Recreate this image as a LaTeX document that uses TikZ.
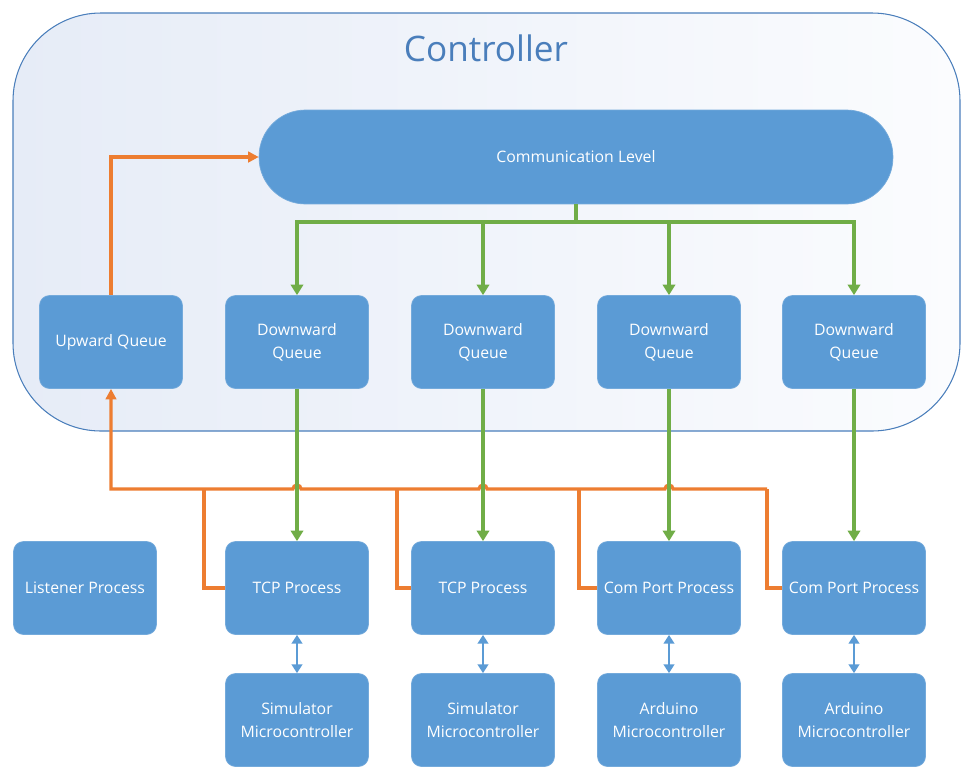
\documentclass[tikz,border=0pt]{standalone}
\usepackage{fontspec}
\setmainfont{Open Sans}
\usetikzlibrary{arrows.meta}
\definecolor{boxblue}{HTML}{5B9BD5}
\definecolor{busgreen}{HTML}{70AD47}
\definecolor{busorange}{HTML}{ED7D31}
\definecolor{frameblue}{HTML}{4A7EBB}
\definecolor{paleL}{HTML}{E6ECF7}
\definecolor{paleR}{HTML}{FBFCFE}

\tikzset{
  box/.style={draw=boxblue!85!white, fill=boxblue, rounded corners=0.2cm,
    minimum width=2.86cm, minimum height=1.86cm, inner sep=1pt,
    text=white, align=center, font=\fontsize{9}{13}\selectfont},
  downlink/.style={draw=busgreen, line width=1.8pt, -{Triangle[length=6pt,width=7pt]}},
  uplink/.style={draw=busorange, line width=1.8pt},
  uparrow/.style={uplink, -{Triangle[length=6pt,width=6pt]}},
  duplex/.style={draw=boxblue, line width=1.3pt,
    {Triangle[length=5pt,width=6pt]}-{Triangle[length=5pt,width=6pt]}},
  hop/.style={start angle=0, end angle=180, radius=2.3pt}
}

\begin{document}
\begin{tikzpicture}[x=0.02cm, y=-0.02cm]
  \useasboundingbox (0,0) rectangle (970,775);
  \draw[draw=frameblue, line width=0.6pt, rounded corners=1.76cm,
    left color=paleL, right color=paleR] (13,13) rectangle (960,431);
  \node[text=frameblue, font=\fontsize{20}{24}\selectfont] (title) at (486,48) {Controller};

  \node[box, minimum width=12.68cm, minimum height=1.88cm, rounded corners=0.93cm]
    (comm) at (576,157) {Communication Level};

  % queues
  \node[box] (upq) at (111,342) {Upward Queue};
  \node[box] (dq1) at (297,342) {Downward\\Queue};
  \node[box] (dq2) at (483,342) {Downward\\Queue};
  \node[box] (dq3) at (669,342) {Downward\\Queue};
  \node[box] (dq4) at (854,342) {Downward\\Queue};

  % processes
  \node[box] (lp)   at (85,588)  {Listener Process};
  \node[box] (tcp1) at (297,588) {TCP Process};
  \node[box] (tcp2) at (483,588) {TCP Process};
  \node[box] (cp1)  at (669,588) {Com Port Process};
  \node[box] (cp2)  at (854,588) {Com Port Process};

  % devices
  \node[box] (sim1) at (297,720) {Simulator\\Microcontroller};
  \node[box] (sim2) at (483,720) {Simulator\\Microcontroller};
  \node[box] (ard1) at (669,720) {Arduino\\Microcontroller};
  \node[box] (ard2) at (854,720) {Arduino\\Microcontroller};

  % orange bus
  \coordinate (corner) at (111,489);
  \coordinate (t1) at (204,489);
  \coordinate (t2) at (397,489);
  \coordinate (t3) at (579,489);
  \coordinate (t4) at (767,489);
  \coordinate (h1) at (dq1.south |- corner);
  \coordinate (h2) at (dq2.south |- corner);
  \coordinate (h3) at (dq3.south |- corner);

  \draw[uplink] (tcp1.west) -| (t1);
  \draw[uplink] (tcp2.west) -| (t2);
  \draw[uplink] (cp1.west) -| (t3);
  \draw[uplink] (cp2.west) -| (t4);
  \draw[uparrow] (t4) -- ([xshift=2.3pt]h3) arc[hop]
    -- ([xshift=2.3pt]h2) arc[hop]
    -- ([xshift=2.3pt]h1) arc[hop]
    -- (corner) -- (upq.south);
  \draw[uparrow] (upq.north) |- (comm.west);

  % green fan-out
  \coordinate (split) at (576,222);
  \foreach \q in {dq1,dq2,dq3,dq4}
    \draw[downlink] (comm.south) -- (split) -| (\q.north);
  \draw[downlink] (dq1) -- (tcp1);
  \draw[downlink] (dq2) -- (tcp2);
  \draw[downlink] (dq3) -- (cp1);
  \draw[downlink] (dq4) -- (cp2);

  % serial links
  \draw[duplex] (tcp1) -- (sim1);
  \draw[duplex] (tcp2) -- (sim2);
  \draw[duplex] (cp1) -- (ard1);
  \draw[duplex] (cp2) -- (ard2);
\end{tikzpicture}
\end{document}
